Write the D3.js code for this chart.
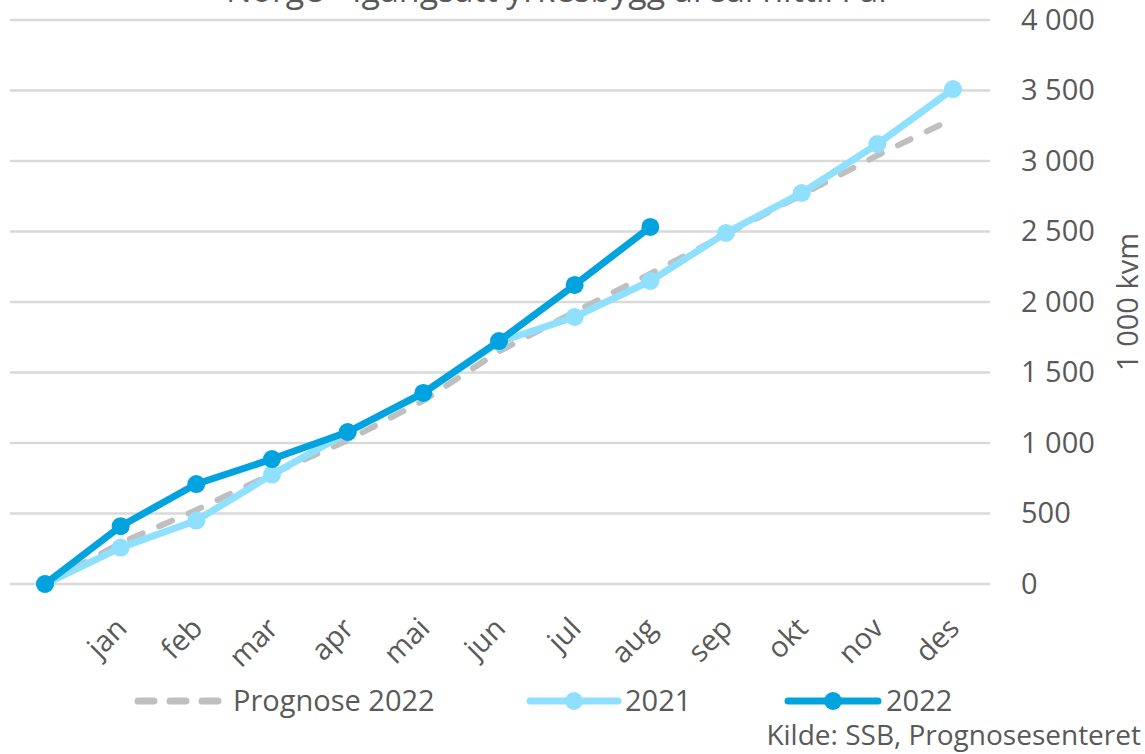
<!DOCTYPE html>
<html>
<head>
<meta charset="utf-8">
<script src="https://cdn.jsdelivr.net/npm/d3@7"></script>
<style>
  body { margin: 0; background: #fff; }
  text { font-family: "Open Sans", "Noto Sans", sans-serif; fill: #595959; }
</style>
</head>
<body>
<div class="chartContainer"></div>
<script>
const months = ["", "jan", "feb", "mar", "apr", "mai", "jun", "jul", "aug", "sep", "okt", "nov", "des"];
const prognose2022 = [0, 290, 525, 780, 1020, 1300, 1650, 1930, 2200, 2480, 2760, 3040, 3300];
const values2021 = [0, 258, 450, 776, 1075, 1352, 1715, 1894, 2149, 2490, 2773, 3120, 3510];
const values2022 = [0, 410, 709, 886, 1078, 1355, 1723, 2121, 2532];
const yTicks = [0, 500, 1000, 1500, 2000, 2500, 3000, 3500, 4000];

const w = 1145;
const h = 754;

const svg = d3
  .select(".chartContainer")
  .append("svg")
  .attr("width", w)
  .attr("height", h);

const xScale = d3.scalePoint().domain(months).range([45, 953]);
const yScale = d3.scaleLinear().domain([0, 4000]).range([584, 20]);

// Gridlines
svg
  .append("g")
  .selectAll("line")
  .data(yTicks)
  .enter()
  .append("line")
  .attr("x1", 10)
  .attr("x2", 990)
  .attr("y1", (d) => yScale(d))
  .attr("y2", (d) => yScale(d))
  .attr("stroke", "#d9d9d9")
  .attr("stroke-width", 2.5);

// Title (cut off at the top, as in the source)
svg
  .append("text")
  .attr("x", 559)
  .attr("y", 2)
  .attr("text-anchor", "middle")
  .style("font-size", "34px")
  .text("Norge - Igangsatt yrkesbygg areal hittil i år");

// Y axis on the right
const yAxis = d3
  .axisRight(yScale)
  .tickValues(yTicks)
  .tickSize(0)
  .tickPadding(0)
  .tickFormat((d) => d3.format(",")(d).replace(/,/g, " "));

const yAxisHandle = svg
  .append("g")
  .attr("transform", "translate(1021,0)")
  .call(yAxis);
yAxisHandle.select(".domain").remove();
yAxisHandle
  .selectAll("text")
  .attr("fill", "#595959")
  .style("font-size", "29px")
  .style("font-family", '"Open Sans", sans-serif');

svg
  .append("text")
  .attr("transform", "translate(1138,302)rotate(-90)")
  .attr("text-anchor", "middle")
  .style("font-size", "29px")
  .text("1 000 kvm");

// X axis labels
const xAxis = d3.axisBottom(xScale).tickSize(0).tickPadding(0);
const xAxisHandle = svg.append("g").call(xAxis);
xAxisHandle.select(".domain").remove();
xAxisHandle
  .selectAll(".tick")
  .attr("transform", (d) => "translate(" + (xScale(d) + 8) + ",630)");
xAxisHandle
  .selectAll("text")
  .attr("y", 0)
  .attr("dy", 0)
  .attr("text-anchor", "end")
  .attr("transform", "rotate(-45)")
  .attr("fill", "#595959")
  .style("font-size", "29px")
  .style("font-family", '"Open Sans", sans-serif');

const line = d3
  .line()
  .x((d, i) => xScale(months[i]))
  .y((d) => yScale(d));

// Prognose 2022
svg
  .append("path")
  .datum(prognose2022)
  .attr("d", line)
  .attr("fill", "none")
  .attr("stroke", "#bfbfbf")
  .attr("stroke-width", 6)
  .attr("stroke-linecap", "round")
  .attr("stroke-dasharray", "14,18");

// 2021
svg
  .append("path")
  .datum(values2021)
  .attr("d", line)
  .attr("fill", "none")
  .attr("stroke", "#8fdfff")
  .attr("stroke-width", 7)
  .attr("stroke-linejoin", "round");
svg
  .append("g")
  .selectAll("circle")
  .data(values2021)
  .enter()
  .append("circle")
  .attr("cx", (d, i) => xScale(months[i]))
  .attr("cy", (d) => yScale(d))
  .attr("r", 9)
  .attr("fill", "#8fdfff");

// 2022
svg
  .append("path")
  .datum(values2022)
  .attr("d", line)
  .attr("fill", "none")
  .attr("stroke", "#00a3dd")
  .attr("stroke-width", 7)
  .attr("stroke-linejoin", "round");
svg
  .append("g")
  .selectAll("circle")
  .data(values2022)
  .enter()
  .append("circle")
  .attr("cx", (d, i) => xScale(months[i]))
  .attr("cy", (d) => yScale(d))
  .attr("r", 9)
  .attr("fill", "#00a3dd");

// Legend
const legend = svg.append("g").attr("id", "legend");
legend
  .append("line")
  .attr("x1", 138)
  .attr("x2", 220)
  .attr("y1", 701)
  .attr("y2", 701)
  .attr("stroke", "#bfbfbf")
  .attr("stroke-width", 7)
  .attr("stroke-linecap", "round")
  .attr("stroke-dasharray", "16,16");
legend
  .append("text")
  .attr("x", 233)
  .attr("y", 711)
  .style("font-size", "29px")
  .text("Prognose 2022");

legend
  .append("line")
  .attr("x1", 530)
  .attr("x2", 618)
  .attr("y1", 701)
  .attr("y2", 701)
  .attr("stroke", "#8fdfff")
  .attr("stroke-width", 7)
  .attr("stroke-linecap", "round");
legend
  .append("circle")
  .attr("cx", 574)
  .attr("cy", 701)
  .attr("r", 9)
  .attr("fill", "#8fdfff");
legend
  .append("text")
  .attr("x", 625)
  .attr("y", 711)
  .style("font-size", "29px")
  .text("2021");

legend
  .append("line")
  .attr("x1", 788)
  .attr("x2", 878)
  .attr("y1", 701)
  .attr("y2", 701)
  .attr("stroke", "#00a3dd")
  .attr("stroke-width", 7)
  .attr("stroke-linecap", "round");
legend
  .append("circle")
  .attr("cx", 833)
  .attr("cy", 701)
  .attr("r", 9)
  .attr("fill", "#00a3dd");
legend
  .append("text")
  .attr("x", 886)
  .attr("y", 711)
  .style("font-size", "29px")
  .text("2022");

svg
  .append("text")
  .attr("x", 1141)
  .attr("y", 745)
  .attr("text-anchor", "end")
  .style("font-size", "28px")
  .text("Kilde: SSB, Prognosesenteret");
</script>
</body>
</html>
